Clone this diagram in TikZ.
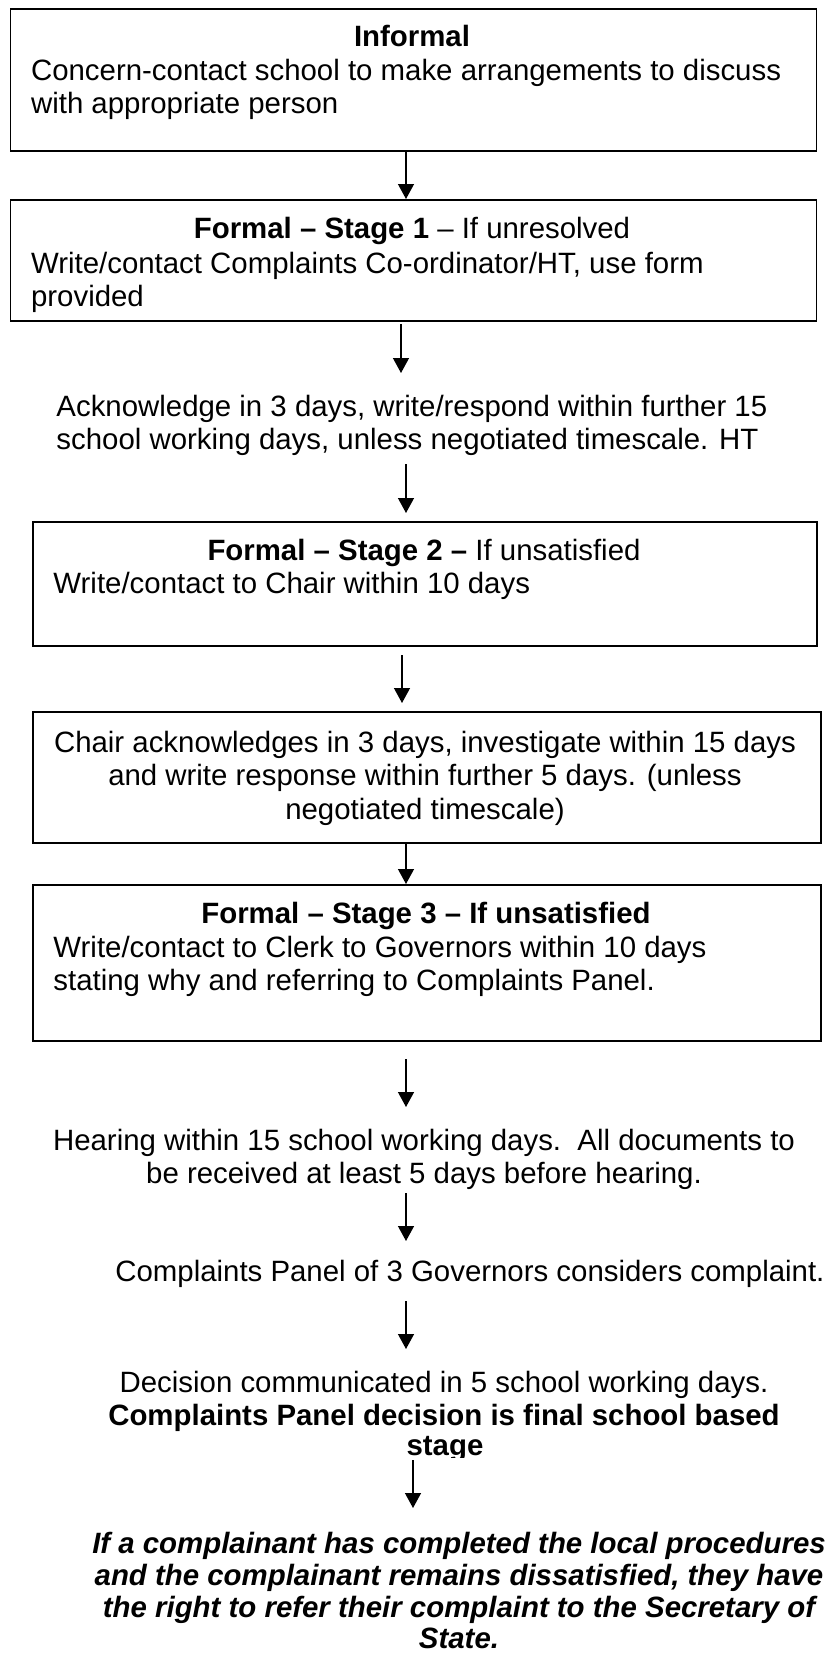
\documentclass[tikz,border=0pt]{standalone}
\usepackage{fontspec}
\setmainfont{Liberation Sans}
\usetikzlibrary{arrows.meta}
\begin{document}
\begin{tikzpicture}[x=0.4167pt,y=-0.4167pt,
  box/.style={draw,line width=0.8pt,inner sep=0pt,anchor=north west},
  txt/.style={inner sep=0pt,font=\fontsize{12.25}{13.8}\selectfont},
  arr/.style={line width=0.6pt,-{Triangle[length=6.2pt,width=6.6pt]}}]
\useasboundingbox (0,0) rectangle (825,1654);
\fill[white] (0,0) rectangle (825,1654);
% boxes
\node[box,minimum width={806*0.4167pt},minimum height={142*0.4167pt}] (b1) at (9.5,8) {};
\node[box,minimum width={806*0.4167pt},minimum height={121*0.4167pt}] (b2) at (9.5,199) {};
\node[box,minimum width={784*0.4167pt},minimum height={124*0.4167pt}] (b3) at (31.6,521) {};
\node[box,minimum width={788*0.4167pt},minimum height={131*0.4167pt}] (b4) at (31.6,711) {};
\node[box,minimum width={788*0.4167pt},minimum height={156*0.4167pt}] (b5) at (31.6,884) {};
% texts
\node[txt,anchor=north] (t1) at (412,25) {\bfseries Informal};
\node[txt,anchor=north west,align=left] (t1b) at (30.6,59) {Concern-contact school to make arrangements to discuss\\with appropriate person};
\node[txt,anchor=north] (t2) at (412,217) {\textbf{Formal – Stage 1} – If unresolved};
\node[txt,anchor=north west,align=left] (t2b) at (30.6,252) {Write/contact Complaints Co-ordinator/HT, use form\\provided};
\node[txt,anchor=north west,align=left] (ack) at (56,395) {Acknowledge in 3 days, write/respond within further 15\\school working days, unless negotiated timescale. HT};
\node[txt,anchor=north] (t3) at (424,539) {\textbf{Formal – Stage 2 –} If unsatisfied};
\node[txt,anchor=north west,align=left] (t3b) at (53,572) {Write/contact to Chair within 10 days};
\node[txt,anchor=north,align=center] (t4) at (425,731) {Chair acknowledges in 3 days, investigate within 15 days\\and write response within further 5 days. (unless\\negotiated timescale)};
\node[txt,anchor=north] (t5) at (426,902) {\bfseries Formal – Stage 3 – If unsatisfied};
\node[txt,anchor=north west,align=left] (t5b) at (53,936) {Write/contact to Clerk to Governors within 10 days\\stating why and referring to Complaints Panel.};
\node[txt,anchor=north,align=center] (hear) at (424,1129) {Hearing within 15 school working days.\ \ All documents to\\be received at least 5 days before hearing.};
\node[txt,anchor=north east] (panel) at (825,1260) {Complaints Panel of 3 Governors considers complaint.};
\node[txt,anchor=north,align=center] (dec) at (444,1371) {Decision communicated in 5 school working days.\\\textbf{Complaints Panel decision is final school based}};
\begin{scope}
\clip (300,1420) rectangle (600,1457);
\node[txt,anchor=north] (stage) at (445,1436) {\bfseries stage};
\end{scope}
\node[txt,anchor=north,align=center,font=\fontsize{12.25}{13.2}\selectfont\bfseries\itshape] (sos) at (459,1532) {If a complainant has completed the local procedures\\and the complainant remains dissatisfied, they have\\the right to refer their complaint to the Secretary of\\State.};
% arrow coordinates
\coordinate (a2s) at (401,324); \coordinate (a2e) at (401,373);
\coordinate (a3s) at (406,464); \coordinate (a3e) at (406,513);
\coordinate (a4s) at (402,655); \coordinate (a4e) at (402,703);
\coordinate (a6s) at (406,1059); \coordinate (a6e) at (406,1107);
\coordinate (a7s) at (406,1193); \coordinate (a7e) at (406,1241);
\coordinate (a8s) at (406,1301); \coordinate (a8e) at (406,1349);
\coordinate (a9s) at (413,1460); \coordinate (a9e) at (413,1508);
% arrows
\draw[arr] (b1.south -| 406,0) -- (b2.north -| 406,0);
\draw[arr] (a2s) -- (a2e);
\draw[arr] (a3s) -- (a3e);
\draw[arr] (a4s) -- (a4e);
\draw[arr] (b4.south -| 406,0) -- (b5.north -| 406,0);
\draw[arr] (a6s) -- (a6e);
\draw[arr] (a7s) -- (a7e);
\draw[arr] (a8s) -- (a8e);
\draw[arr] (a9s) -- (a9e);
\end{tikzpicture}
\end{document}
